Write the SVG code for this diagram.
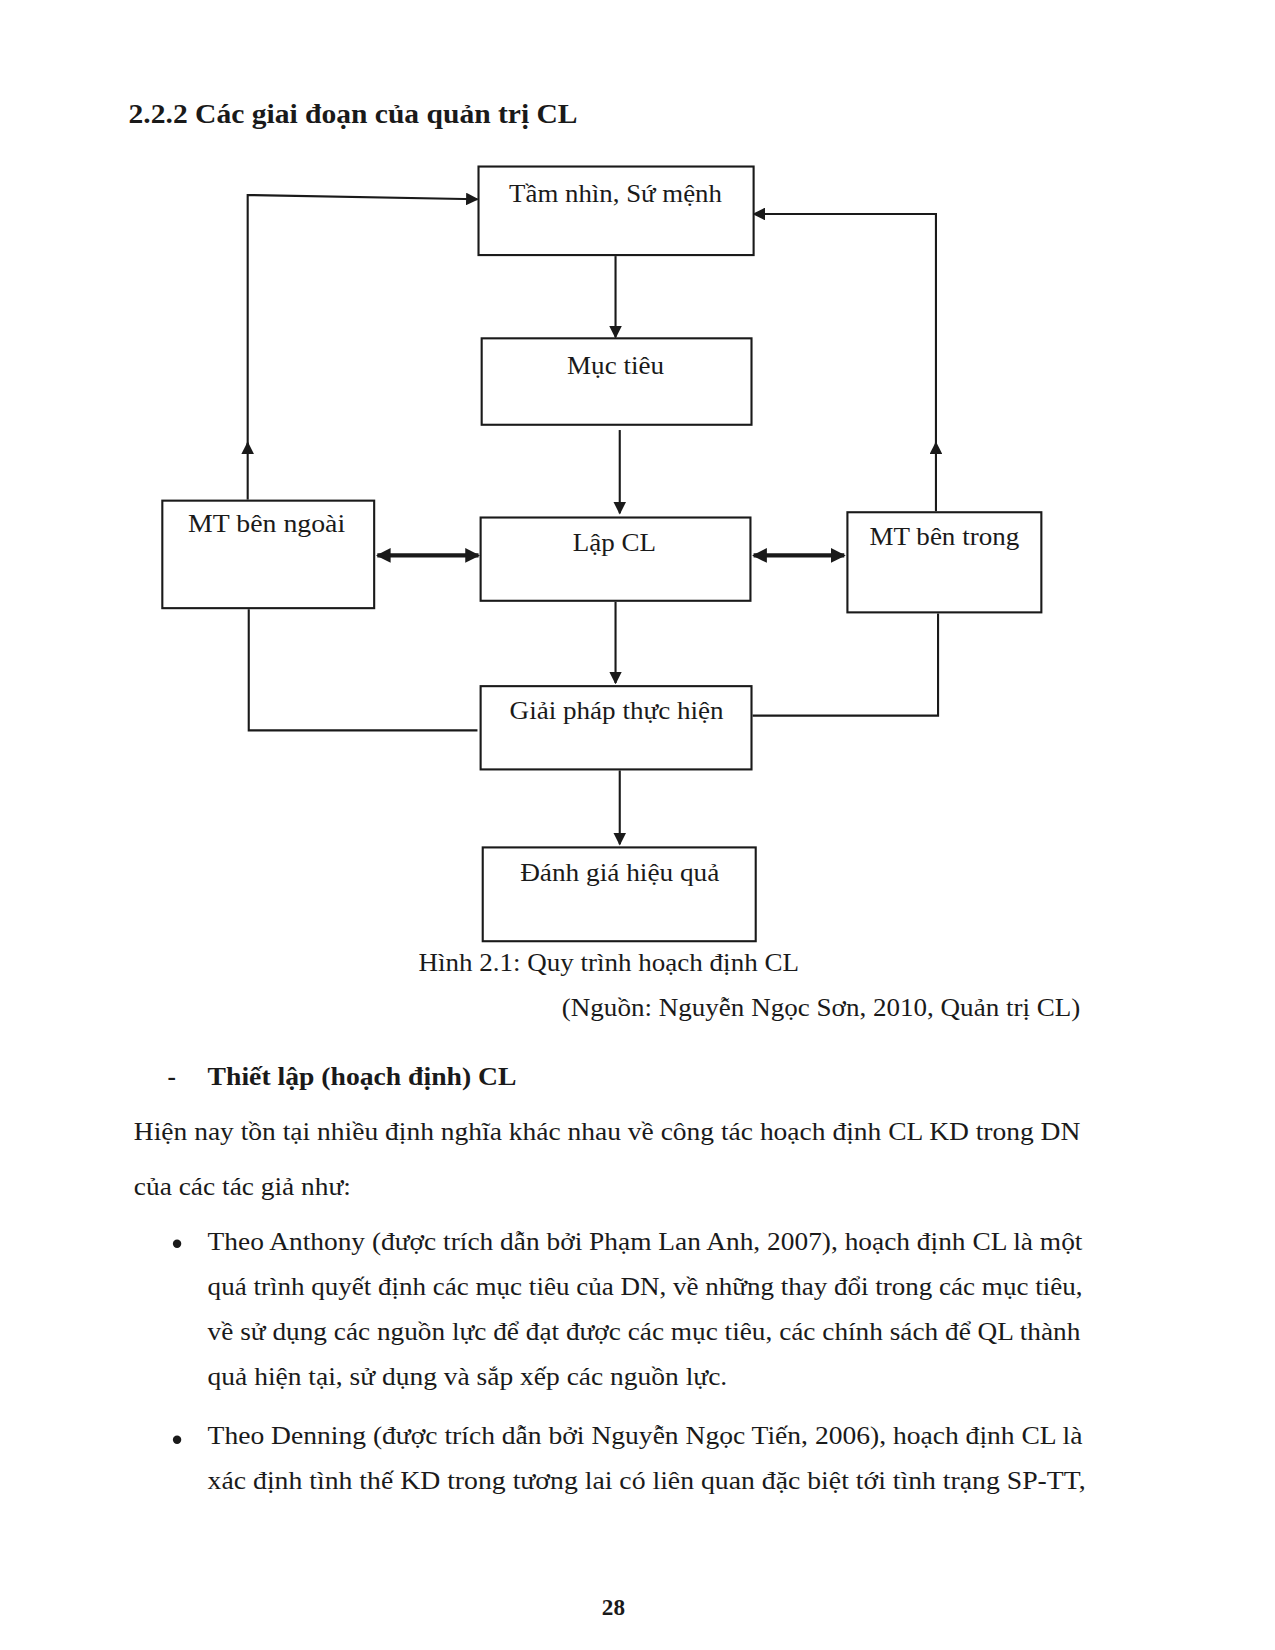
<svg xmlns="http://www.w3.org/2000/svg" width="1275" height="1650" viewBox="0 0 1275 1650">
<defs>
<style>
.t{font-family:"Liberation Serif","Times New Roman",serif;fill:#1a1a1a;}
.box{fill:#fff;stroke:#1a1a1a;stroke-width:2;}
.ln{fill:none;stroke:#1a1a1a;stroke-width:2;}
.dbl{fill:none;stroke:#1a1a1a;stroke-width:4;}
.lbl{font-size:24px;text-anchor:middle;}
.body{font-size:24px;}
</style>
<marker id="ah" viewBox="0 0 10 10" refX="9" refY="5" markerWidth="12" markerHeight="12" markerUnits="userSpaceOnUse" orient="auto">
<path d="M0,0 L10,5 L0,10 z" fill="#1a1a1a"/>
</marker>
<marker id="ahb" viewBox="0 0 10 10" refX="9" refY="5" markerWidth="14" markerHeight="14" markerUnits="userSpaceOnUse" orient="auto-start-reverse">
<path d="M0,0 L10,5 L0,10 z" fill="#1a1a1a"/>
</marker>
</defs>
<rect width="1275" height="1650" fill="#fff"/>
<g transform="scale(1.054)">
<text class="t" x="122" y="117" font-size="26" font-weight="bold" textLength="426" lengthAdjust="spacingAndGlyphs">2.2.2 Các giai đoạn của quản trị CL</text>

<g id="connectors">
<line class="ln" x1="584" y1="243" x2="584" y2="320" marker-end="url(#ah)"/>
<line class="ln" x1="588" y1="408" x2="588" y2="487" marker-end="url(#ah)"/>
<line class="ln" x1="584" y1="571" x2="584" y2="648" marker-end="url(#ah)"/>
<line class="ln" x1="588" y1="731" x2="588" y2="801" marker-end="url(#ah)"/>
<line class="ln" x1="235" y1="474" x2="235" y2="420" marker-end="url(#ah)"/>
<polyline class="ln" points="235,428 235,185 453,189" marker-end="url(#ah)"/>
<line class="ln" x1="888" y1="485" x2="888" y2="420" marker-end="url(#ah)"/>
<polyline class="ln" points="888,428 888,203 715,203" marker-end="url(#ah)"/>
<polyline class="ln" points="236,578 236,693 453,693"/>
<polyline class="ln" points="714,679 890,679 890,582"/>
<line class="dbl" x1="358" y1="527" x2="454" y2="527" marker-start="url(#ahb)" marker-end="url(#ahb)"/>
<line class="dbl" x1="715" y1="527" x2="801" y2="527" marker-start="url(#ahb)" marker-end="url(#ahb)"/>
</g>

<g id="n-tamnhin"><rect class="box" x="454" y="158" width="261" height="84"/><text class="t lbl" x="584" y="192" textLength="202" lengthAdjust="spacingAndGlyphs">Tầm nhìn, Sứ mệnh</text></g>
<g id="n-muctieu"><rect class="box" x="457" y="321" width="256" height="82"/><text class="t lbl" x="584" y="355" textLength="92" lengthAdjust="spacingAndGlyphs">Mục tiêu</text></g>
<g id="n-lapcl"><rect class="box" x="456" y="491" width="256" height="79"/><text class="t lbl" x="583" y="523" textLength="79" lengthAdjust="spacingAndGlyphs">Lập CL</text></g>
<g id="n-mtngoai"><rect class="box" x="154" y="475" width="201" height="102"/><text class="t lbl" x="253" y="505" textLength="149" lengthAdjust="spacingAndGlyphs">MT bên ngoài</text></g>
<g id="n-mttrong"><rect class="box" x="804" y="486" width="184" height="95"/><text class="t lbl" x="896" y="517" textLength="142" lengthAdjust="spacingAndGlyphs">MT bên trong</text></g>
<g id="n-giaiphap"><rect class="box" x="456" y="651" width="257" height="79"/><text class="t lbl" x="585" y="682" textLength="203" lengthAdjust="spacingAndGlyphs">Giải pháp thực hiện</text></g>
<g id="n-danhgia"><rect class="box" x="458" y="804" width="259" height="89"/><text class="t lbl" x="588" y="836" textLength="189" lengthAdjust="spacingAndGlyphs">Đánh giá hiệu quả</text></g>

<text class="t body" x="397" y="921" textLength="361" lengthAdjust="spacingAndGlyphs">Hình 2.1: Quy trình hoạch định CL</text>
<text class="t body" x="533" y="964" textLength="492" lengthAdjust="spacingAndGlyphs">(Nguồn: Nguyễn Ngọc Sơn, 2010, Quản trị CL)</text>

<text class="t body" x="159" y="1029" font-weight="bold">-</text>
<text class="t body" x="197" y="1029" font-weight="bold" textLength="293" lengthAdjust="spacingAndGlyphs">Thiết lập (hoạch định) CL</text>

<text class="t body" x="127" y="1082" textLength="898" lengthAdjust="spacingAndGlyphs">Hiện nay tồn tại nhiều định nghĩa khác nhau về công tác hoạch định CL KD trong DN</text>
<text class="t body" x="127" y="1134" textLength="206" lengthAdjust="spacingAndGlyphs">của các tác giả như:</text>

<circle cx="168" cy="1180" r="4" fill="#1a1a1a"/>
<text class="t body" x="197" y="1186" textLength="830" lengthAdjust="spacingAndGlyphs">Theo Anthony (được trích dẫn bởi Phạm Lan Anh, 2007), hoạch định CL là một</text>
<text class="t body" x="197" y="1229" textLength="830" lengthAdjust="spacingAndGlyphs">quá trình quyết định các mục tiêu của DN, về những thay đổi trong các mục tiêu,</text>
<text class="t body" x="197" y="1271" textLength="828" lengthAdjust="spacingAndGlyphs">về sử dụng các nguồn lực để đạt được các mục tiêu, các chính sách để QL thành</text>
<text class="t body" x="197" y="1314" textLength="493" lengthAdjust="spacingAndGlyphs">quả hiện tại, sử dụng và sắp xếp các nguồn lực.</text>

<circle cx="168" cy="1366" r="4" fill="#1a1a1a"/>
<text class="t body" x="197" y="1370" textLength="830" lengthAdjust="spacingAndGlyphs">Theo Denning (được trích dẫn bởi Nguyễn Ngọc Tiến, 2006), hoạch định CL là</text>
<text class="t body" x="197" y="1413" textLength="833" lengthAdjust="spacingAndGlyphs">xác định tình thế KD trong tương lai có liên quan đặc biệt tới tình trạng SP-TT,</text>

<text class="t" x="582" y="1532" font-size="22" font-weight="bold" text-anchor="middle">28</text>
</g>
</svg>
